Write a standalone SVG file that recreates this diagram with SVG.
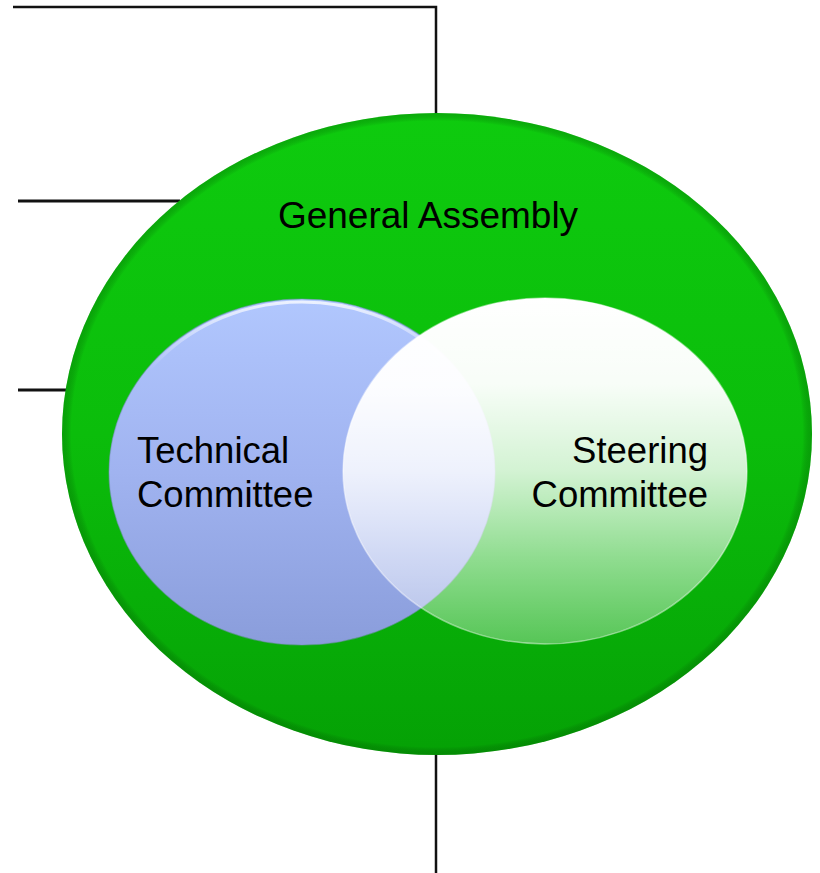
<svg xmlns="http://www.w3.org/2000/svg" width="820" height="873" viewBox="0 0 820 873">
  <style>
    .conn { stroke: #111; stroke-width: 2.5; fill: none; }
    .lbl { font-family: "Liberation Sans", Arial, sans-serif; font-size: 36.5px; fill: #000; }
  </style>
  <defs>
    <linearGradient id="gaFill" x1="0" y1="0" x2="0" y2="1">
      <stop offset="0" stop-color="#0ecb0e"/>
      <stop offset="0.5" stop-color="#0bbd0b"/>
      <stop offset="1" stop-color="#05a105"/>
    </linearGradient>
    <radialGradient id="gaRim" cx="0.5" cy="0.5" r="0.5">
      <stop offset="0.975" stop-color="#000" stop-opacity="0"/>
      <stop offset="1" stop-color="#035f03" stop-opacity="0.3"/>
    </radialGradient>
    <linearGradient id="tcFill" x1="0" y1="0" x2="0" y2="1">
      <stop offset="0" stop-color="#b1c7fe"/>
      <stop offset="0.5" stop-color="#a0b3f0"/>
      <stop offset="1" stop-color="#8a9ddb"/>
    </linearGradient>
    <linearGradient id="tcHi" x1="0" y1="0" x2="0" y2="1">
      <stop offset="0" stop-color="#ffffff" stop-opacity="0.75"/>
      <stop offset="0.2" stop-color="#ffffff" stop-opacity="0"/>
    </linearGradient>
    <linearGradient id="scFill" x1="0" y1="0" x2="0" y2="1">
      <stop offset="0" stop-color="#ffffff" stop-opacity="1"/>
      <stop offset="0.25" stop-color="#ffffff" stop-opacity="0.97"/>
      <stop offset="0.5" stop-color="#ffffff" stop-opacity="0.82"/>
      <stop offset="0.75" stop-color="#ffffff" stop-opacity="0.55"/>
      <stop offset="1" stop-color="#ffffff" stop-opacity="0.32"/>
    </linearGradient>
  </defs>

  <g id="connectors">
    <polyline class="conn" points="13,7 436,7 436,114"/>
    <line class="conn" x1="18" y1="201" x2="180" y2="201" style="stroke-width:3"/>
    <line class="conn" x1="18" y1="390" x2="68" y2="390" style="stroke-width:3"/>
    <line class="conn" x1="436" y1="754" x2="436" y2="873"/>
  </g>

  <g id="general-assembly">
    <ellipse cx="437" cy="434" rx="375" ry="321" fill="url(#gaFill)"/>
    <ellipse cx="437" cy="434" rx="375" ry="321" fill="url(#gaRim)"/>
    <text class="lbl" x="428" y="228" text-anchor="middle" style="font-size:37px">General Assembly</text>
  </g>

  <g id="technical-committee">
    <ellipse cx="302" cy="472" rx="193" ry="173" fill="url(#tcFill)" stroke="#7f90c8" stroke-opacity="0.5" stroke-width="1.2"/>
    <ellipse cx="302" cy="473" rx="191" ry="171" fill="none" stroke="url(#tcHi)" stroke-width="3"/>
    <text class="lbl" x="137" y="463">Technical</text>
    <text class="lbl" x="137" y="507">Committee</text>
  </g>

  <g id="steering-committee">
    <ellipse cx="545" cy="471" rx="202" ry="173" fill="url(#scFill)" stroke="#ffffff" stroke-opacity="0.45" stroke-width="1.5"/>
    <text class="lbl" x="708" y="463" text-anchor="end">Steering</text>
    <text class="lbl" x="708" y="507" text-anchor="end">Committee</text>
  </g>
</svg>
